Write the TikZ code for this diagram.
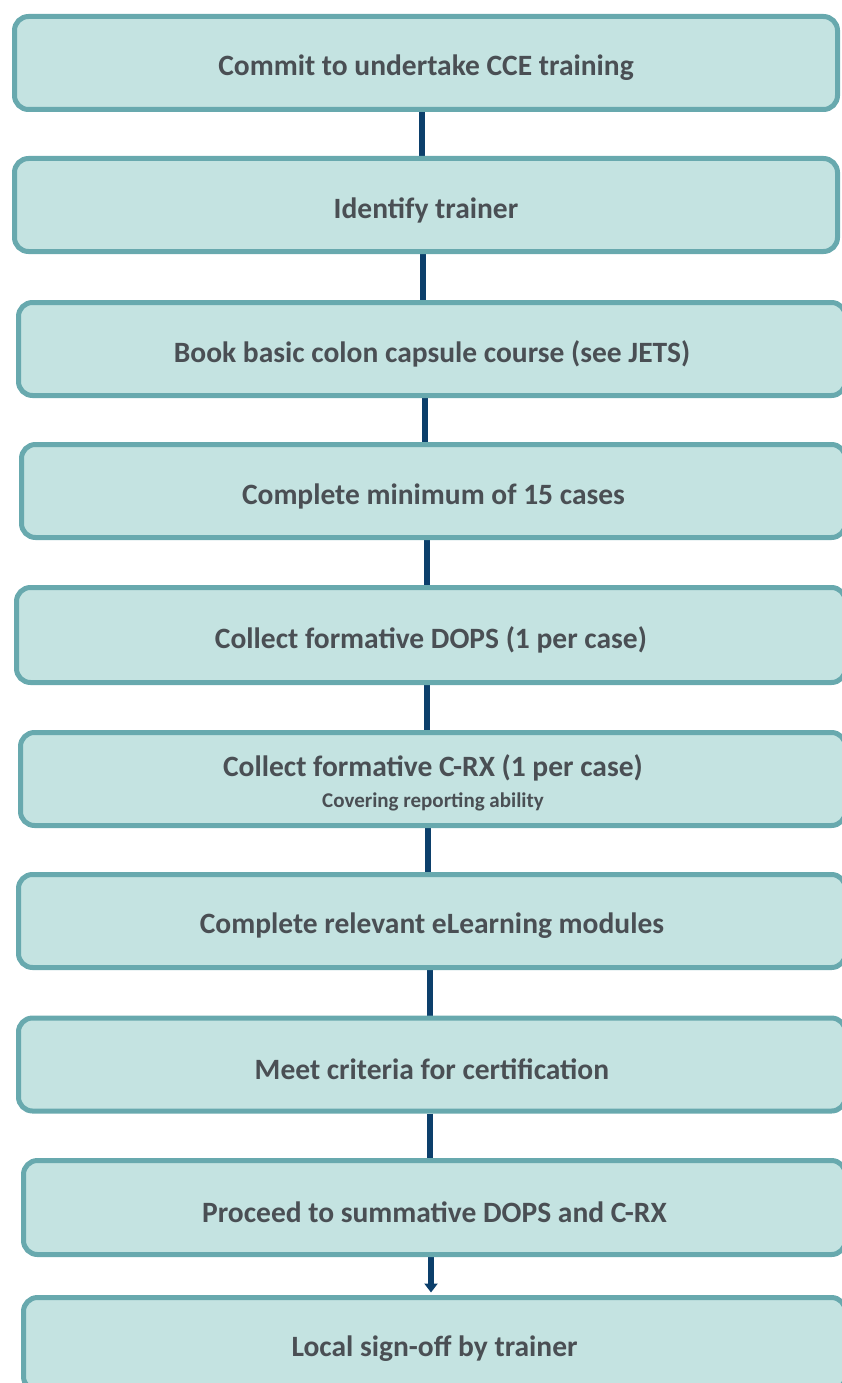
\documentclass[tikz,border=0pt]{standalone}
\usepackage{fontspec}
\setmainfont{Carlito}
\usetikzlibrary{arrows.meta}
\definecolor{boxfill}{HTML}{C4E3E1}
\definecolor{boxline}{HTML}{68A9AE}
\definecolor{txt}{HTML}{4A4F54}
\definecolor{conn}{HTML}{0C3F6B}
\pgfdeclarelayer{bg}
\pgfsetlayers{bg,main}
\newcommand\lowtxt[2][-5pt]{\raisebox{#1}[\height][\depth]{#2}}
\begin{document}
\begin{tikzpicture}[x=1pt,y=-1pt,
  stepbox/.style={draw=boxline, fill=boxfill, line width=5pt, rounded corners=14pt,
    minimum height=93pt, inner sep=0pt, text=txt, font=\bfseries\fontsize{29.5}{32}\selectfont, align=center},
  link/.style={draw=conn, line width=5.5pt}]
\useasboundingbox (0,0) rectangle (841,1383);
\node[stepbox, minimum width=823pt] (n1) at (426,63) {\lowtxt{Commit to undertake CCE training}};
\node[stepbox, minimum width=823pt] (n2) at (426,205) {\lowtxt{Identify trainer}};
\node[stepbox, minimum width=827pt] (n3) at (432,349) {\lowtxt{Book basic colon capsule course (see JETS)}};
\node[stepbox, minimum width=824pt] (n4) at (433.5,491) {\lowtxt{Complete minimum of 15 cases}};
\node[stepbox, minimum width=829pt, minimum height=95pt] (n5) at (431,635) {\lowtxt{Collect formative DOPS (1 per case)}};
\node[stepbox, minimum width=825pt] (n6) at (433,779) {\lowtxt[-6.5pt]{\begin{tabular}{@{}c@{}}Collect formative C-RX (1 per case)\\[-1pt]{\fontsize{21}{24}\selectfont Covering reporting ability}\end{tabular}}};
\node[stepbox, minimum width=827pt] (n7) at (432,921) {\lowtxt{Complete relevant eLearning modules}};
\node[stepbox, minimum width=827pt] (n8) at (432,1064.5) {\lowtxt{Meet criteria for certification}};
\node[stepbox, minimum width=822pt, minimum height=94pt] (n9) at (434.5,1207.5) {\lowtxt{Proceed to summative DOPS and C-RX}};
\node[stepbox, minimum width=822pt] (n10) at (434.5,1344) {\lowtxt{Local sign-off by trainer}};
\coordinate (c1) at (422,0);
\coordinate (c2) at (423,0);
\coordinate (c3) at (425,0);
\coordinate (c4) at (427,0);
\coordinate (c5) at (427,0);
\coordinate (c6) at (428,0);
\coordinate (c7) at (430,0);
\coordinate (c8) at (430,0);
\coordinate (c9) at (431,0);
\begin{pgfonlayer}{bg}
\draw[link] (n1.south -| c1) -- (n2.north -| c1);
\draw[link] (n2.south -| c2) -- (n3.north -| c2);
\draw[link] (n3.south -| c3) -- (n4.north -| c3);
\draw[link] (n4.south -| c4) -- (n5.north -| c4);
\draw[link] (n5.south -| c5) -- (n6.north -| c5);
\draw[link] (n6.south -| c6) -- (n7.north -| c6);
\draw[link] (n7.south -| c7) -- (n8.north -| c7);
\draw[link] (n8.south -| c8) -- (n9.north -| c8);
\draw[link, -{Triangle[width=13pt,length=9pt]}, shorten >=2.5pt] (n9.south -| c9) -- (n10.north -| c9);
\end{pgfonlayer}
\end{tikzpicture}
\end{document}
